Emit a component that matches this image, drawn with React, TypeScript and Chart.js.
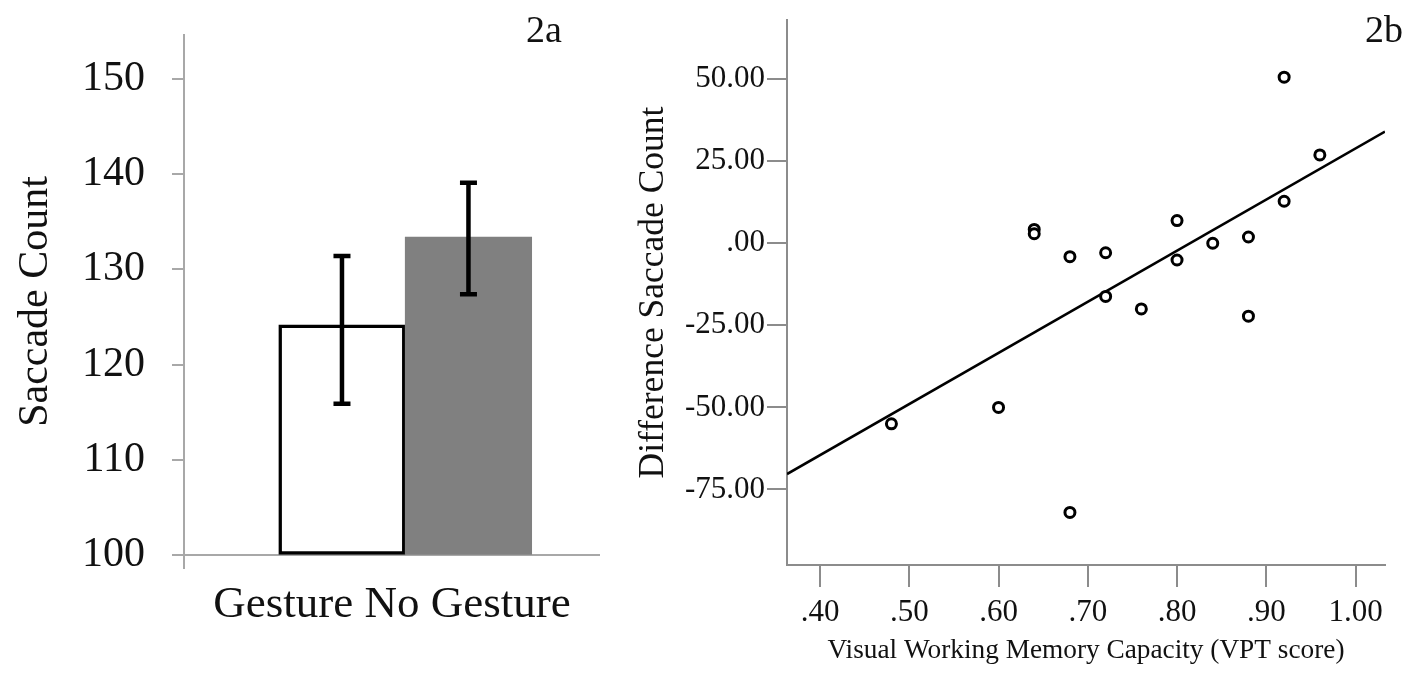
import React, { useEffect, useRef } from "react";
import { Chart, registerables } from "chart.js";

Chart.register(...registerables);

// ---- Figure 2a: bar chart ----
const CATEGORIES = ["Gesture", "No Gesture"];
const MEANS = [124.2, 133.4];
const ERR_LOW = [115.9, 127.4];
const ERR_HIGH = [131.4, 139.1];
const BAR_FILL = ["#ffffff", "#808080"];
const BAR_EDGE = ["#000000", "#808080"];
const BAR_Y_TICKS = [100, 110, 120, 130, 140, 150];

// ---- Figure 2b: scatter with fit line ----
const VPT = [0.48, 0.6, 0.64, 0.64, 0.68, 0.68, 0.72, 0.72, 0.76, 0.8, 0.8, 0.84, 0.88, 0.88, 0.92, 0.92, 0.96];
const DIFF = [-55, -50, 4.2, 2.9, -4.1, -82, -2.9, -16.2, -20, 6.9, -5.1, 0, 1.9, -22.2, 50.6, 12.8, 26.9];
const FIT_X = [0.363, 1.033];
const FIT_Y = [-70.3, 34.0];
const X_TICKS = [0.4, 0.5, 0.6, 0.7, 0.8, 0.9, 1.0];
const X_TICK_LABELS = [".40", ".50", ".60", ".70", ".80", ".90", "1.00"];
const Y_TICKS = [-75, -50, -25, 0, 25, 50];
const Y_TICK_LABELS = ["-75.00", "-50.00", "-25.00", ".00", "25.00", "50.00"];

const FONT = "'Liberation Serif', 'Times New Roman', serif";
const TEXT = "#111111";

const errorBarPlugin = {
  id: "errorBars",
  afterDatasetsDraw(chart: any) {
    const { ctx, scales } = chart;
    const x = scales.x;
    const y = scales.y;
    ctx.save();
    ctx.strokeStyle = "#000000";
    ctx.lineWidth = 4.5;
    ctx.lineCap = "butt";
    ERR_LOW.forEach((lo, i) => {
      const px = x.getPixelForValue(i + 1);
      const top = y.getPixelForValue(ERR_HIGH[i]);
      const bot = y.getPixelForValue(lo);
      ctx.beginPath();
      ctx.moveTo(px, top);
      ctx.lineTo(px, bot);
      ctx.moveTo(px - 8.5, top);
      ctx.lineTo(px + 8.5, top);
      ctx.moveTo(px - 8.5, bot);
      ctx.lineTo(px + 8.5, bot);
      ctx.stroke();
    });
    ctx.restore();
  },
};

function BarChart() {
  const ref = useRef<HTMLCanvasElement | null>(null);
  useEffect(() => {
    if (!ref.current) return;
    const chart = new Chart(ref.current, {
      type: "bar",
      data: {
        datasets: [
          {
            data: MEANS.map((v, i) => ({ x: i + 1, y: v })),
            base: 100,
            backgroundColor: BAR_FILL,
            borderColor: BAR_EDGE,
            borderWidth: [3.5, 0],
            borderSkipped: false,
            barPercentage: 1,
            categoryPercentage: 1,
          } as any,
        ],
      },
      options: {
        responsive: false,
        animation: false,
        devicePixelRatio: 1,
        layout: { padding: { top: 35, right: 20, left: 0, bottom: 0 } },
        plugins: {
          legend: { display: false },
          tooltip: { enabled: false },
        },
        scales: {
          x: {
            type: "linear",
            min: -0.249,
            max: 3.04,
            offset: false,
            afterBuildTicks: (s: any) => {
              s.ticks = CATEGORIES.map((_c, i) => ({ value: i + 1 }));
            },
            ticks: { display: false },
            grid: { display: false },
            border: { display: false },
            title: {
              display: true,
              text: CATEGORIES.join(" "),
              color: TEXT,
              font: { family: FONT, size: 45, lineHeight: 1.2 },
              padding: { top: 0, bottom: 46 },
            },
            afterFit: (s: any) => {
              s.height = 110;
              s.paddingLeft = 0;
              s.paddingRight = 0;
            },
          } as any,
          y: {
            type: "linear",
            min: 98.67,
            max: 154.6,
            afterBuildTicks: (s: any) => {
              s.ticks = BAR_Y_TICKS.map((v) => ({ value: v }));
            },
            ticks: {
              color: TEXT,
              padding: 27,
              font: { family: FONT, size: 42, lineHeight: 1.2 },
            },
            grid: {
              color: (c: any) => (c.tick && c.tick.value === 100 ? "#a8a8a8" : "rgba(0,0,0,0)"),
              tickColor: "#a8a8a8",
              lineWidth: 2,
              tickLength: 12,
            },
            border: { display: true, color: "#a8a8a8", width: 2 },
            title: {
              display: true,
              text: "Saccade Count",
              color: TEXT,
              font: { family: FONT, size: 42, lineHeight: 1.2 },
              padding: { top: 11, bottom: 0 },
            },
            afterFit: (s: any) => {
              s.width = 184;
              s.paddingTop = 0;
              s.paddingBottom = 0;
            },
          } as any,
        },
      },
      plugins: [errorBarPlugin],
    });
    return () => chart.destroy();
  }, []);
  return <canvas ref={ref} width={620} height={678} style={{ display: "block", width: 620, height: 678 }} />;
}

function ScatterChart() {
  const ref = useRef<HTMLCanvasElement | null>(null);
  useEffect(() => {
    if (!ref.current) return;
    const chart = new Chart(ref.current, {
      type: "scatter",
      data: {
        datasets: [
          {
            type: "scatter",
            data: VPT.map((v, i) => ({ x: v, y: DIFF[i] })),
            pointRadius: 5,
            pointBorderWidth: 3,
            pointBackgroundColor: "#ffffff",
            pointBorderColor: "#000000",
            showLine: false,
          },
          {
            type: "line",
            data: FIT_X.map((v, i) => ({ x: v, y: FIT_Y[i] })),
            borderColor: "#000000",
            borderWidth: 2.5,
            pointRadius: 0,
            fill: false,
            tension: 0,
          },
        ] as any,
      },
      options: {
        responsive: false,
        animation: false,
        devicePixelRatio: 1,
        layout: { padding: { top: 20, right: 28, left: 0, bottom: 0 } },
        plugins: {
          legend: { display: false },
          tooltip: { enabled: false },
        },
        scales: {
          x: {
            type: "linear",
            min: 0.363,
            max: 1.033,
            afterBuildTicks: (s: any) => {
              s.ticks = X_TICKS.map((v) => ({ value: v }));
            },
            ticks: {
              callback: (_v: any, i: number) => X_TICK_LABELS[i],
              color: TEXT,
              padding: 7,
              maxRotation: 0,
              autoSkip: false,
              font: { family: FONT, size: 31, lineHeight: 1.2 },
            },
            grid: { drawOnChartArea: false, color: "#8c8c8c", tickColor: "#8c8c8c", lineWidth: 2, tickLength: 22 },
            border: { display: true, color: "#8c8c8c", width: 2 },
            title: {
              display: true,
              text: "Visual Working Memory Capacity (VPT score)",
              color: TEXT,
              font: { family: FONT, size: 27.3, lineHeight: 1.2 },
              padding: { top: 0, bottom: 11 },
            },
            afterFit: (s: any) => {
              s.height = 113;
              s.paddingLeft = 0;
              s.paddingRight = 0;
            },
          } as any,
          y: {
            type: "linear",
            min: -98,
            max: 68,
            afterBuildTicks: (s: any) => {
              s.ticks = Y_TICKS.map((v) => ({ value: v }));
            },
            ticks: {
              callback: (_v: any, i: number) => Y_TICK_LABELS[i],
              color: TEXT,
              padding: 2,
              font: { family: FONT, size: 31, lineHeight: 1.2 },
            },
            grid: { drawOnChartArea: false, color: "#8c8c8c", tickColor: "#8c8c8c", lineWidth: 2, tickLength: 20 },
            border: { display: true, color: "#8c8c8c", width: 2 },
            title: {
              display: true,
              text: "Difference Saccade Count",
              color: TEXT,
              font: { family: FONT, size: 35.5, lineHeight: 1.2 },
              padding: { top: 12, bottom: 0 },
            },
            afterFit: (s: any) => {
              s.width = 167;
              s.paddingTop = 0;
              s.paddingBottom = 0;
            },
          } as any,
        },
      },
    });
    return () => chart.destroy();
  }, []);
  return <canvas ref={ref} width={793} height={678} style={{ display: "block", width: 793, height: 678 }} />;
}

const panelLabel: React.CSSProperties = {
  position: "absolute",
  top: 10,
  fontFamily: FONT,
  fontSize: 38,
  lineHeight: "38px",
  color: TEXT,
  margin: 0,
};

export default function App() {
  return (
    <div
      style={{
        position: "absolute",
        left: 0,
        top: 0,
        width: 1413,
        height: 678,
        background: "#ffffff",
        overflow: "hidden",
      }}
    >
      <div style={{ position: "absolute", left: 0, top: 0 }}>
        <BarChart />
      </div>
      <div style={{ position: "absolute", left: 620, top: 0 }}>
        <ScatterChart />
      </div>
      <div style={{ ...panelLabel, left: 526 }}>2a</div>
      <div style={{ ...panelLabel, left: 1365 }}>2b</div>
    </div>
  );
}
